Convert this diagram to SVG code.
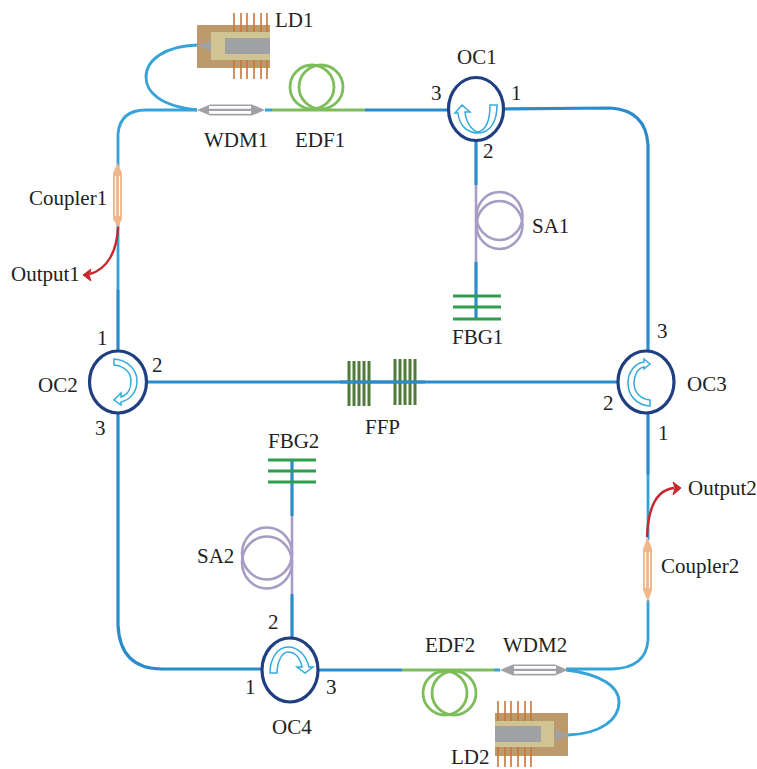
<svg xmlns="http://www.w3.org/2000/svg" width="757" height="769" viewBox="0 0 757 769">
<style>
text{font-family:"Liberation Serif","Times New Roman",serif;font-size:21px;fill:#222}
.f{fill:none;stroke:#2b8ccb;stroke-width:3.2}
.t{fill:none;stroke:#35a3d8;stroke-width:2.8}
.g{fill:none;stroke:#7ebd5b;stroke-width:2.8}
.s{fill:none;stroke:#a79cc4;stroke-width:2.6}
.c{fill:#fff;stroke:#1f3f80;stroke-width:3.2}
.a{fill:#fff;stroke:#35aadd;stroke-width:1.5}
.fb{stroke:#2f9e4f;stroke-width:3}
.ffp{stroke:#4f7a3a;stroke-width:3}
.pin{stroke:#c9763a;stroke-width:1.6}
.r{fill:none;stroke:#c8252c;stroke-width:2.4}
.gy{fill:#a0a1a5}.br{fill:#bd9a6c}.tn{fill:#d0c492}
</style>
<g id="connectors">
<path class="t" d="M118 225V170V134Q120 110 146 110H197"/>
<path class="t" d="M197 110C160 106 146 92 146 77C146 60 165 46 197 45"/>
<path class="f" d="M118 290V352M118 412V625Q120 669 162 669H264"/>
<path class="t" d="M118 225V290"/>
<path class="f" d="M148 382H620"/>
<path class="f" d="M365 110H448M503 109L610 108Q646 110 648 145V352"/>
<path class="f" d="M476 140V185M476 262V319"/>
<path class="s" d="M476 185V262"/>
<path class="f" d="M292 460V516M292 594V640"/>
<path class="s" d="M292 516V594"/>
<path class="f" d="M648 412V475"/>
<path class="t" d="M648 475V540M648 600V640Q646 668 612 669H566"/>
<path class="t" d="M566 670C600 674 619 686 619 702C619 720 600 734 568 735"/>
<path class="f" d="M317 670H402"/>
<path class="t" d="M265 110H272M494 670H500"/>
<path class="g" d="M272 110H365M402 670H494"/>
<path class="r" d="M118 227C117 252 107 269 90 274"/>
<path d="M83 275L91 269L89 275L91 281Z" fill="#c8252c" stroke="#c8252c"/>
<path class="r" d="M647 537C648 510 655 490 674 488"/>
<path d="M681 488L673 482L675 488L673 495Z" fill="#c8252c" stroke="#c8252c"/>
</g>
<g id="LD1">
<rect class="br" x="197" y="25" width="73" height="43"/>
<path class="pin" d="M234 13V32M241 13V32M247 13V32M254 13V32M261 13V32M267 13V32M234 60V79M241 60V79M247 60V79M254 60V79M261 60V79M267 60V79"/>
<rect class="tn" x="211" y="32" width="59" height="28"/>
<rect class="gy" x="225" y="38" width="45" height="16"/>
<path class="gy" d="M197 45L211 41V51Z"/>
<text x="275" y="27">LD1</text>
</g>
<g id="WDM1">
<path class="gy" d="M197 110L210 104.500H252L265 110L252 115.500H210Z"/>
<rect x="209" y="106" width="42" height="2.800" fill="#fff"/>
<rect x="209" y="111" width="42" height="2.800" fill="#fff"/>
<text x="204" y="147">WDM1</text>
</g>
<g id="EDF1">
<circle class="g" cx="312" cy="87" r="22"/><circle class="g" cx="321" cy="87" r="22"/>
<text x="295" y="147">EDF1</text>
</g>
<g id="OC1">
<ellipse class="c" cx="476" cy="109" rx="27.500" ry="31.500"/>
<path class="a" d="M490 105H497C497 122 490 133 478 133C466 133 459 124 458 113H455L462 105L470 112H465C466 122 472 131 478 132C486 130 490 120 490 105Z"/>
<text x="457" y="64">OC1</text><text x="431" y="100">3</text><text x="511" y="100">1</text><text x="483" y="158">2</text>
</g>
<g id="SA1">
<ellipse class="s" cx="499.500" cy="216" rx="23" ry="24"/><ellipse class="s" cx="499.500" cy="225" rx="23" ry="24"/>
<text x="532" y="233">SA1</text>
</g>
<g id="FBG1">
<path class="fb" d="M453 296H501M453 307H501M453 319H501"/>
<text x="452" y="344">FBG1</text>
</g>
<g id="Coupler1">
<path fill="#f0b78b" d="M117.500 163L122 173V219L118 227L113 219V173Z"/>
<path d="M115.500 176V216M119.500 176V216" stroke="#fff" stroke-width="1.200" fill="none"/>
<text x="29" y="205">Coupler1</text>
<text x="11" y="281">Output1</text>
</g>
<g id="OC2">
<ellipse class="c" cx="118" cy="382" rx="28.500" ry="31"/>
<path class="a" d="M114 359C128 360 137 370 137 381C137 392 130 400 121 402L121 405L114 400L121 393L121 397C128 395 131 388 131 381C131 372 124 366 114 365Z"/>
<text x="38" y="392">OC2</text><text x="97" y="345">1</text><text x="152" y="372">2</text><text x="95" y="435">3</text>
</g>
<g id="FFP">
<path class="ffp" d="M349 361V406M354 361V406M359 361V406M364 361V406M369 361V406M395 359V405M400 359V405M405 359V405M410 359V405M415 359V405"/>
<path class="f" d="M340 382H425"/>
<text x="365" y="434">FFP</text>
</g>
<g id="OC3">
<ellipse class="c" cx="646" cy="382" rx="28" ry="31"/>
<path class="a" d="M650 406C636 405 628 395 628 383C628 372 635 363 644 362L644 359L650 364L644 369L644 367C638 368 634 375 634 383C634 392 640 399 650 400Z"/>
<text x="687" y="391">OC3</text><text x="603" y="410">2</text><text x="658" y="440">1</text><text x="657" y="338">3</text>
</g>
<g id="Coupler2">
<path fill="#f0b78b" d="M647.500 537L652 549V590L648 602L643 590V549Z"/>
<path d="M645.500 552V588M649.500 552V588" stroke="#fff" stroke-width="1.200" fill="none"/>
<text x="661" y="573">Coupler2</text>
<text x="688" y="495">Output2</text>
</g>
<g id="FBG2">
<path class="fb" d="M268 460H316M268 471H316M268 482H316"/>
<text x="268" y="448">FBG2</text>
</g>
<g id="SA2">
<ellipse class="s" cx="267" cy="553.500" rx="25" ry="26"/><ellipse class="s" cx="267" cy="562.500" rx="25" ry="26"/>
<text x="197" y="563">SA2</text>
</g>
<g id="OC4">
<ellipse class="c" cx="290" cy="670" rx="28" ry="32"/>
<path class="a" d="M270 673C270 658 278 647 288 647C298 647 306 655 309 667H313L305 673L297 667H302C300 658 295 652 288 652C282 652 277 662 277 673Z"/>
<text x="272" y="734">OC4</text><text x="268" y="629">2</text><text x="245" y="694">1</text><text x="326" y="694">3</text>
</g>
<g id="EDF2">
<circle class="g" cx="445" cy="693" r="22"/><circle class="g" cx="454" cy="693" r="22"/>
<text x="425" y="652">EDF2</text>
</g>
<g id="WDM2">
<path class="gy" d="M500 670L513 664.500H555L568 670L555 675.500H513Z"/>
<rect x="514" y="666" width="42" height="2.800" fill="#fff"/>
<rect x="514" y="671" width="42" height="2.800" fill="#fff"/>
<text x="503" y="652">WDM2</text>
</g>
<g id="LD2">
<rect class="br" x="495" y="713" width="73" height="43"/>
<path class="pin" d="M498 701V721M505 701V721M511 701V721M518 701V721M525 701V721M531 701V721M498 747V767M505 747V767M511 747V767M518 747V767M525 747V767M531 747V767"/>
<rect class="tn" x="495" y="721" width="59" height="26"/>
<rect class="gy" x="495" y="726" width="46" height="16"/>
<path class="gy" d="M568 735L555 729V741Z"/>
<text x="451" y="764">LD2</text>
</g>
</svg>
